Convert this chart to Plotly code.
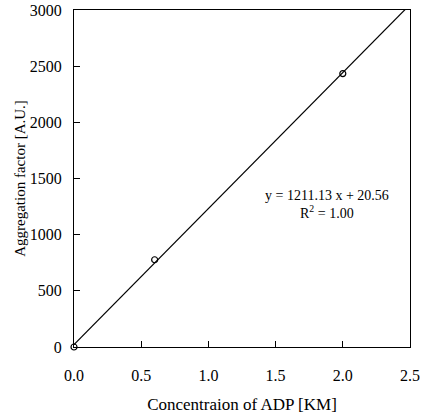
import plotly.graph_objects as go

x_data = [0.0, 0.6, 2.0]
y_data = [0.0, 776.6, 2434.0]
slope = 1211.13
intercept = 20.56
fit_x = [0.0, 2.5]
fit_y = [intercept + slope * v for v in fit_x]

font_family = "Liberation Serif"

fig = go.Figure()
fig.add_trace(go.Scatter(x=fit_x, y=fit_y, mode="lines",
                         line=dict(color="black", width=1.2), showlegend=False))
fig.add_trace(go.Scatter(x=x_data, y=y_data, mode="markers",
                         marker=dict(symbol="circle-open", size=6, color="black",
                                     line=dict(width=1.2, color="black")),
                         showlegend=False, cliponaxis=False))

fig.add_annotation(x=1.88, y=1345, text="y = 1211.13 x + 20.56", showarrow=False,
                   font=dict(family=font_family, size=14, color="black"))
fig.add_annotation(x=1.88, y=1200, text="R<sup>2</sup> = 1.00", showarrow=False,
                   font=dict(family=font_family, size=14, color="black"))

fig.update_layout(
    width=422, height=417,
    margin=dict(l=74, r=12, t=10, b=70),
    paper_bgcolor="white", plot_bgcolor="white",
    font=dict(family=font_family, size=16, color="black"),
)
fig.update_xaxes(range=[0, 2.5], tickvals=[0, 0.5, 1.0, 1.5, 2.0, 2.5],
                 ticktext=["0.0", "0.5", "1.0", "1.5", "2.0", "2.5"],
                 ticks="inside", ticklen=6, tickcolor="black",
                 ticklabelstandoff=14, automargin=False,
                 showline=True, linecolor="black", linewidth=1.2, mirror=True,
                 showgrid=False, zeroline=False,
                 title=dict(text="Concentraion of ADP [KM]", standoff=14,
                            font=dict(size=17)))
fig.update_yaxes(range=[0, 3000], tickvals=[0, 500, 1000, 1500, 2000, 2500, 3000],
                 ticks="inside", ticklen=6, tickcolor="black",
                 ticklabelstandoff=8, automargin=False,
                 showline=True, linecolor="black", linewidth=1.2, mirror=True,
                 showgrid=False, zeroline=False,
                 title=dict(text="Aggregation factor [A.U.]", standoff=0,
                            font=dict(size=15)))

fig.write_html("out.html")
